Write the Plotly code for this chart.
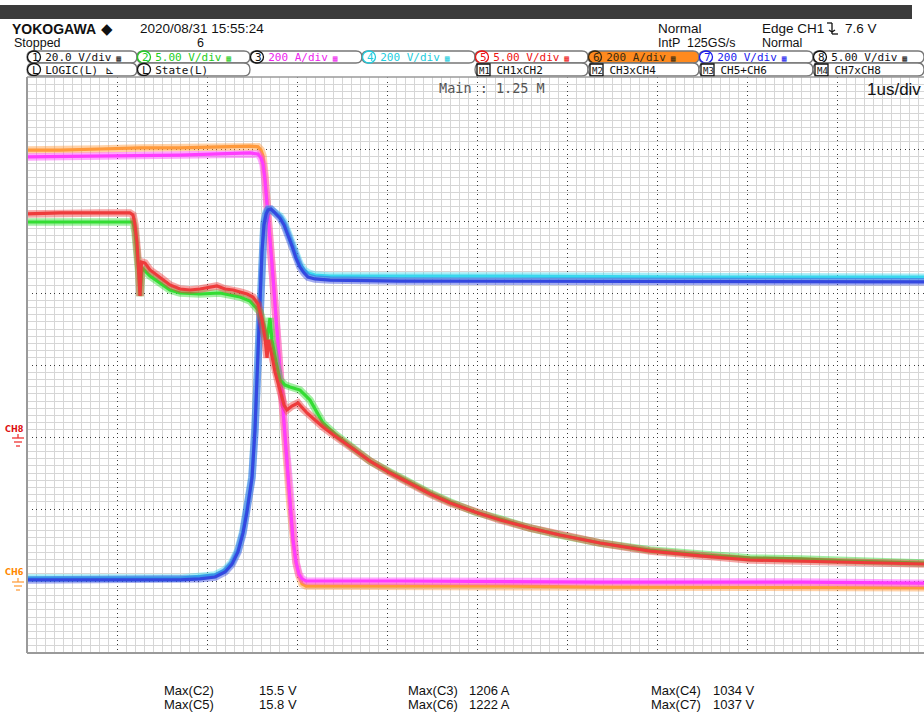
import plotly.graph_objects as go

# ---------------- waveform data (time in us) ----------------
# CH6 collector current, 200 A/div (orange)
t_ch6 = [0, 0.367, 0.811, 1.256, 1.7, 2.144, 2.478, 2.567, 2.6, 2.622, 2.644, 2.678, 2.722,
         2.767, 2.822, 2.878, 2.922, 2.956, 2.989, 3.022, 3.056, 3.1, 3.367, 4.144, 5.256,
         6.367, 7.478, 8.589, 9.967]
i_ch6 = [1197, 1197, 1200, 1203, 1203, 1206, 1208, 1206, 1197, 1181, 1128, 1025, 886,
         731, 544, 358, 211, 111, 50, 14, -8, -14, -14, -14, -14, -17, -17, -17, -19]

# CH3 collector current, 200 A/div (magenta)
t_ch3 = [0, 0.811, 1.7, 2.478, 2.567, 2.6, 2.622, 2.644, 2.678, 2.722, 2.767, 2.822,
         2.878, 2.922, 2.956, 2.989, 3.022, 3.056, 3.1, 4.144, 6.367, 8.589, 9.967]
i_ch3 = [1178, 1181, 1183, 1189, 1186, 1175, 1158, 1114, 1017, 881, 731, 544,
         358, 211, 114, 53, 19, 6, 0, 0, -3, -3, -6]

# CH7 collector-emitter voltage, 200 V/div (blue)
t_ch7 = [0, 0.811, 1.7, 1.922, 2.089, 2.2, 2.278, 2.344, 2.4, 2.444, 2.478, 2.5, 2.533,
         2.567, 2.589, 2.611, 2.633, 2.656, 2.678, 2.711, 2.744, 2.778, 2.811, 2.856,
         2.9, 2.944, 2.989, 3.033, 3.078, 3.122, 3.2, 3.367, 4.144, 5.256, 6.367, 7.478,
         8.589, 9.967]
v_ch7 = [3, 3, 3, 6, 11, 25, 47, 81, 133, 192, 247, 286, 419,
         642, 781, 914, 989, 1019, 1031, 1033, 1025, 1017, 1008, 989,
         961, 931, 897, 872, 856, 844, 839, 836, 833, 833, 833, 833,
         831, 831]

# CH4 collector-emitter voltage, 200 V/div (cyan)
t_ch4 = [0, 1.7, 2.089, 2.2, 2.278, 2.344, 2.4, 2.444, 2.478, 2.5, 2.533, 2.567, 2.589,
         2.611, 2.633, 2.656, 2.678, 2.711, 2.744, 2.778, 2.811, 2.856, 2.9, 2.944,
         2.989, 3.033, 3.078, 3.122, 3.2, 3.367, 5.256, 7.478, 9.967]
v_ch4 = [8, 8, 17, 31, 53, 86, 139, 197, 253, 292, 425, 647, 786,
         919, 997, 1025, 1033, 1031, 1025, 1019, 1014, 997, 969, 939,
         906, 881, 864, 856, 850, 847, 847, 844, 844]

# CH5 gate-emitter voltage, 5 V/div (red)
t_ch5 = [0, 0.367, 0.811, 1.144, 1.178, 1.2, 1.222, 1.244, 1.256, 1.272, 1.311, 1.367,
         1.478, 1.589, 1.7, 1.811, 1.922, 2.033, 2.111, 2.2, 2.289, 2.367, 2.444, 2.511,
         2.567, 2.611, 2.644, 2.667, 2.683, 2.722, 2.756, 2.811, 2.856, 2.889, 2.944,
         3.011, 3.056, 3.111, 3.2, 3.289, 3.422, 3.589, 3.811, 4.033, 4.256, 4.478, 4.7,
         4.978, 5.256, 5.589, 5.922, 6.367, 6.922, 7.478, 8.033, 8.589, 9.144, 9.7, 9.967]
v_ch5 = [15.49, 15.56, 15.56, 15.56, 15.42, 14.72, 13.54, 11.60, 9.79, 12.15, 12.08, 11.60,
         11.11, 10.56, 10.28, 10.21, 10.28, 10.42, 10.49, 10.28, 10.21, 10.07, 9.93, 9.72,
         9.24, 8.13, 6.88, 5.49, 6.74, 5.63, 4.51, 3.26, 2.22, 1.88, 2.15,
         2.36, 2.01, 1.67, 1.18, 0.69, 0.07, -0.69, -1.67, -2.50, -3.26, -3.96, -4.58,
         -5.21, -5.76, -6.32, -6.81, -7.36, -7.92, -8.26, -8.54, -8.61, -8.68, -8.75, -8.82]

# CH2 gate-emitter voltage, 5 V/div (green)
t_ch2 = [0, 0.811, 1.178, 1.2, 1.222, 1.244, 1.256, 1.278, 1.367, 1.478, 1.589, 1.7,
         1.922, 2.144, 2.367, 2.478, 2.533, 2.589, 2.633, 2.667, 2.7, 2.722, 2.767, 2.811,
         2.867, 2.922, 3.033, 3.144, 3.289, 3.422, 3.589, 3.811, 4.033, 4.256, 4.478, 4.7,
         4.978, 5.256, 5.589, 5.922, 6.367, 6.922, 7.478, 8.033, 8.589, 9.144, 9.7, 9.967]
v_ch2 = [14.93, 14.93, 14.93, 14.24, 12.99, 11.25, 9.79, 11.74, 11.18, 10.69, 10.21, 10.00,
         9.93, 10.00, 9.72, 9.44, 9.10, 8.68, 7.78, 6.74, 8.26, 6.74, 5.21, 3.96,
         3.61, 3.47, 3.26, 2.57, 0.97, 0.21, -0.63, -1.67, -2.43, -3.19, -3.89, -4.51,
         -5.21, -5.69, -6.32, -6.81, -7.36, -7.85, -8.19, -8.40, -8.47, -8.61, -8.68, -8.75]

# header / channel labels
tab_labels = ["20.0 V/div", "5.00 V/div", "200 A/div", "200 V/div",
              "5.00 V/div", "200 A/div", "200 V/div", "5.00 V/div"]
tab_colors = ["#111111", "#22cc22", "#ee22ee", "#22ccdd",
              "#ee1111", "#3a2a10", "#1a1aee", "#111111"]
math_labels = ["CH1xCH2", "CH3xCH4", "CH5+CH6", "CH7xCH8"]
max_names = ["Max(C2)", "Max(C5)", "Max(C3)", "Max(C6)", "Max(C4)", "Max(C7)"]
max_values = ["15.5 V", "15.8 V", "1206 A", "1222 A", "1034 V", "1037 V"]

# ---------------- geometry helpers (pixel -> paper) ----------------
W, H = 924, 712
L, R, T, B = 27, 924, 77, 653


def px(x):
    return (x - L) / (R - L)


def py(y):
    return (B - y) / (B - T)


fig = go.Figure()

HV = "y"      # 200 A/div and 200 V/div channels
GATE = "y2"   # 5 V/div channels


def trace(t, v, color, yax):
    # faint wide band for the acquisition noise, solid core on top
    fig.add_trace(go.Scatter(x=t, y=v, mode="lines", yaxis=yax, opacity=0.45,
                             line=dict(color=color, width=7.5), hoverinfo="skip",
                             showlegend=False))
    fig.add_trace(go.Scatter(x=t, y=v, mode="lines", yaxis=yax,
                             line=dict(color=color, width=3.2), hoverinfo="skip",
                             showlegend=False))


trace(t_ch2, v_ch2, "#33dd33", GATE)
trace(t_ch5, v_ch5, "#ee3b3b", GATE)
trace(t_ch6, i_ch6, "#ff9a3c", HV)
trace(t_ch3, i_ch3, "#ff3cff", HV)
trace(t_ch4, v_ch4, "#3ad8ee", HV)
trace(t_ch7, v_ch7, "#3448e0", HV)

shapes = []
ann = []


def line_px(x0, y0, x1, y1, color, width=1.0):
    shapes.append(dict(type="line", xref="paper", yref="paper",
                       x0=px(x0), y0=py(y0), x1=px(x1), y1=py(y1),
                       line=dict(color=color, width=width), layer="above"))


def text(x, y, s, size, color="#111111", family="Liberation Sans", anchor="left"):
    ann.append(dict(xref="paper", yref="paper", x=px(x), y=py(y), text=s,
                    showarrow=False, xanchor=anchor, yanchor="middle", borderpad=0,
                    font=dict(size=size, color=color, family=family)))


def tab(x0, x1, y0, y1, fill="white", edge="#777777"):
    r = (y1 - y0) / 2.0
    p = (f"M {px(x0 + r)},{py(y0)} L {px(x1 - r)},{py(y0)} "
         f"Q {px(x1)},{py(y0)} {px(x1)},{py(y0 + r)} "
         f"Q {px(x1)},{py(y1)} {px(x1 - r)},{py(y1)} "
         f"L {px(x0 + r)},{py(y1)} "
         f"Q {px(x0)},{py(y1)} {px(x0)},{py(y0 + r)} "
         f"Q {px(x0)},{py(y0)} {px(x0 + r)},{py(y0)} Z")
    shapes.append(dict(type="path", xref="paper", yref="paper", path=p,
                       fillcolor=fill, line=dict(color=edge, width=1.3), layer="above"))


def ring(cx, cy, color, rx=6.5, ry=6.0):
    shapes.append(dict(type="circle", xref="paper", yref="paper",
                       x0=px(cx - rx), x1=px(cx + rx), y0=py(cy + ry), y1=py(cy - ry),
                       line=dict(color=color, width=1.3), layer="above"))


# top dark band
shapes.append(dict(type="rect", xref="paper", yref="paper", x0=px(0), x1=px(912),
                   y0=py(19), y1=py(5), fillcolor="#3b3b3b", line=dict(width=0),
                   layer="above"))

# header texts
text(11, 28.5, "<b>YOKOGAWA</b>", 14, "#111111", "Liberation Sans")
text(100, 28.5, "◆", 15, "#111111", "DejaVu Sans")
text(139, 28.5, "2020/08/31 15:55:24", 13.5, "#111111", "Liberation Sans")
text(13, 43.5, "Stopped", 12.5, "#111111", "Liberation Sans")
text(196, 43.5, "6", 12.5, "#111111", "Liberation Sans")
text(657, 28.5, "Normal", 13.5, "#111111", "Liberation Sans")
text(657, 43.5, "IntP  125GS/s", 12.5, "#111111", "Liberation Sans")
text(761, 28.5, "Edge CH1", 13.5, "#111111", "Liberation Sans")
text(844, 28.5, "7.6 V", 13.5, "#111111", "Liberation Sans")
text(761, 43.5, "Normal", 12.5, "#111111", "Liberation Sans")
# falling-edge trigger glyph
for (a, b, c, d) in [(827, 23, 832, 23), (832, 23, 832, 34), (832, 34, 838, 34),
                     (829, 30, 832, 32), (835, 30, 832, 32)]:
    line_px(a, b, c, d, "#111111", 1.3)

# channel tabs (row 1)
tab_x = [27, 137, 250, 362, 475, 588, 699, 813, 924]
for k in range(8):
    x0, x1 = tab_x[k], tab_x[k + 1]
    fill = "#ff8a1e" if k == 5 else "white"
    tab(x0, x1, 51, 63, fill=fill)
for k in range(8):
    x0 = tab_x[k]
    num_col = tab_colors[k] if k in (1, 3, 4, 6) else "#111111"
    if k == 5:
        num_col = "#3a2a10"
    ring(x0 + 7, 57, num_col)
    s = (f"<span style='color:{num_col}'>{k + 1}</span> {tab_labels[k]}"
         f"<span style='font-size:8px'> ▦</span>")
    text(x0 + 4, 57.5, s, 11, tab_colors[k], "DejaVu Sans Mono")

# row 2 tabs
for (x0, x1) in [(27, 137), (137, 250), (475, 588), (588, 699), (699, 813), (813, 924)]:
    tab(x0, x1, 63, 76)
ring(34, 69.5, "#111111")
text(31, 70.5, "L LOGIC(L) ⊾", 11, "#111111", "DejaVu Sans Mono")
ring(144, 69.5, "#111111")
text(141, 70.5, "L State(L)", 11, "#111111", "DejaVu Sans Mono")
for k, x0 in enumerate([475, 588, 699, 813]):
    shapes.append(dict(type="rect", xref="paper", yref="paper",
                       x0=px(x0 + 2), x1=px(x0 + 15), y0=py(76), y1=py(64),
                       line=dict(color="#111111", width=1.3), layer="above"))
    s = f"<span style='font-size:9px'>M{k + 1}</span> {math_labels[k]}"
    text(x0 + 3, 70.5, s, 11, "#111111", "DejaVu Sans Mono")

# in-graticule info
text(438, 88, "Main : 1.25 M", 13.5, "#555555", "DejaVu Sans Mono")
text(922, 89, "1us/div", 17, "#111111", "Liberation Sans", anchor="right")

# ground markers
text(4, 429, "<b>CH8</b>", 9, "#dd1111", "DejaVu Sans Condensed, DejaVu Sans")
for (a, b, yy) in [(12, 24, 438), (14, 22, 442), (16, 20, 446)]:
    line_px(a, yy, b, yy, "#ee3333", 1.3)
line_px(18, 434, 18, 438, "#ee3333", 1.3)
text(4, 572, "<b>CH6</b>", 9, "#ff8800", "DejaVu Sans Condensed, DejaVu Sans")
for (a, b, yy) in [(12, 24, 582), (14, 22, 586), (16, 20, 590)]:
    line_px(a, yy, b, yy, "#ffa040", 1.3)
line_px(18, 578, 18, 582, "#ffa040", 1.3)

# graticule frame
line_px(27, 77, 27, 653, "#9a9a9a", 2)
line_px(27, 653, 924, 653, "#9a9a9a", 2)
line_px(27, 77, 924, 77, "#9a9a9a", 1.3)

# measurement read-outs
cols = [163, 407, 650]
valx = [258, 468, 712]
for k in range(6):
    c, r = divmod(k, 2)
    yy = 690 if r == 0 else 704
    text(cols[c], yy, max_names[k], 13, "#111111", "Liberation Sans Narrow, Liberation Sans")
    text(valx[c], yy, max_values[k], 13, "#111111", "Liberation Sans Narrow, Liberation Sans")

major = dict(showgrid=True, gridcolor="#3a3a3a", gridwidth=1, griddash="1px,3.5px")
minor_x = dict(dtick=0.1, showgrid=True, gridcolor="#d6d6d6", gridwidth=1, griddash="solid")
minor_y = dict(dtick=20, showgrid=True, gridcolor="#d6d6d6", gridwidth=1, griddash="solid")
fig.update_layout(
    width=W, height=H,
    margin=dict(l=L, r=W - R, t=T, b=H - B, pad=0),
    paper_bgcolor="white", plot_bgcolor="white",
    xaxis=dict(range=[0, (R - L) / 90.0], tick0=0, dtick=1, showticklabels=False,
               ticks="", zeroline=False, showline=False, minor=minor_x, **major),
    yaxis=dict(range=[-200, 1400], tick0=0, dtick=200, showticklabels=False,
               ticks="", zeroline=False, showline=False, minor=minor_y, **major),
    yaxis2=dict(range=[-15, 25], overlaying="y", visible=False),
    shapes=shapes, annotations=ann, showlegend=False,
)

fig.write_html("out.html")
